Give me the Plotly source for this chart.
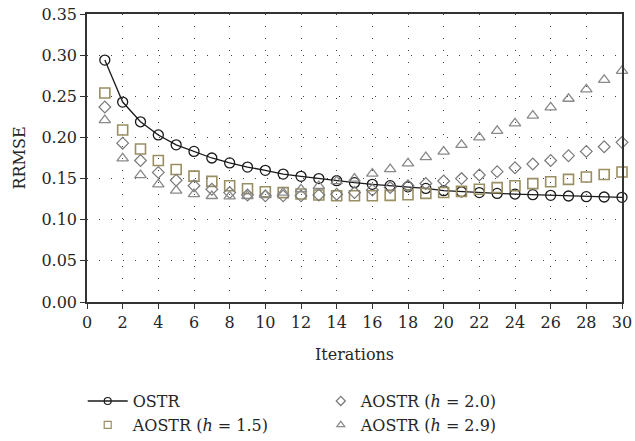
import plotly.graph_objects as go

iterations = list(range(1, 31))
ostr = [0.294, 0.243, 0.219, 0.203, 0.191, 0.183, 0.175, 0.169, 0.164, 0.160,
        0.1555, 0.1527, 0.150, 0.1474, 0.145, 0.143, 0.1414, 0.140, 0.138, 0.1353,
        0.134, 0.133, 0.132, 0.1312, 0.1304, 0.1296, 0.1288, 0.128, 0.1276, 0.1272]
aostr_15 = [0.254, 0.209, 0.186, 0.172, 0.161, 0.153, 0.1466, 0.1413, 0.1377, 0.134,
            0.1329, 0.1312, 0.130, 0.1292, 0.1292, 0.1292, 0.1296, 0.1304, 0.132, 0.133,
            0.1345, 0.137, 0.139, 0.1413, 0.1438, 0.1462, 0.149, 0.152, 0.155, 0.158]
aostr_20 = [0.237, 0.193, 0.172, 0.1575, 0.148, 0.1413, 0.137, 0.133, 0.130, 0.129,
            0.129, 0.129, 0.130, 0.131, 0.133, 0.136, 0.139, 0.1413, 0.144, 0.147,
            0.150, 0.1543, 0.1584, 0.1632, 0.1677, 0.172, 0.1778, 0.183, 0.1887, 0.194]
aostr_29 = [0.221, 0.1746, 0.1543, 0.143, 0.1353, 0.1312, 0.1288, 0.1284, 0.1288, 0.130,
            0.133, 0.137, 0.141, 0.147, 0.150, 0.156, 0.1616, 0.1685, 0.176, 0.1827,
            0.191, 0.200, 0.208, 0.217, 0.2265, 0.2366, 0.247, 0.2585, 0.270, 0.281]
x_ticks = list(range(0, 31, 2))
y_ticks = [0.00, 0.05, 0.10, 0.15, 0.20, 0.25, 0.30, 0.35]

FONT = "DejaVu Serif"
TXT = "#262626"

series = [
    dict(name="OSTR", y=ostr, mode="lines+markers", symbol="circle-open", size=10, lsize=7,
         color="#1a1a1a", lw=1.3, legend="legend"),
    dict(name="AOSTR (<i>h</i> = 1.5)", y=aostr_15, mode="markers", symbol="square-open", size=10, lsize=7,
         color="#9a8f63", lw=1.6, legend="legend"),
    dict(name="AOSTR (<i>h</i> = 2.0)", y=aostr_20, mode="markers", symbol="diamond-open", size=9, lsize=7,
         color="#7a7a7a", lw=1.2, legend="legend2"),
    dict(name="AOSTR (<i>h</i> = 2.9)", y=aostr_29, mode="markers", symbol="triangle-up-open", size=10, lsize=7,
         color="#8a8a8a", lw=1.3, legend="legend2"),
]

fig = go.Figure()
for s in series:
    fig.add_trace(go.Scatter(
        x=iterations, y=s["y"], name=s["name"], mode=s["mode"],
        line=dict(color=s["color"], width=1.3),
        marker=dict(symbol=s["symbol"], size=s["size"], color=s["color"], line=dict(width=s["lw"])),
        showlegend=False, cliponaxis=False))
for s in series:
    # legend-only entry with smaller marker, as in the reference key
    fig.add_trace(go.Scatter(
        x=[None], y=[None], name=s["name"], mode=s["mode"],
        line=dict(color=s["color"], width=1.3),
        marker=dict(symbol=s["symbol"], size=s["lsize"], color=s["color"], line=dict(width=1.2)),
        legend=s["legend"], showlegend=True))

axis_common = dict(
    showline=True, linecolor="#333", linewidth=1.5, mirror=True,
    ticks="outside", ticklen=5, tickcolor="#333",
    showgrid=True, gridcolor="#444", gridwidth=1, griddash="1px,11px",
    zeroline=False, tickfont=dict(size=16, color=TXT, family=FONT),
    automargin=False,
)

fig.update_xaxes(range=[0, 30], tickvals=x_ticks,
                 title=dict(text="Iterations", font=dict(size=16, color=TXT, family=FONT), standoff=18),
                 **axis_common)
fig.update_yaxes(range=[0, 0.35], tickvals=y_ticks, tickformat=".2f",
                 title=dict(text="RRMSE", font=dict(size=16, color=TXT, family=FONT), standoff=12),
                 **axis_common)

legend_common = dict(orientation="v", yanchor="top", xanchor="left",
                     font=dict(size=16, family=FONT, color=TXT),
                     bgcolor="rgba(0,0,0,0)", tracegroupgap=0)

fig.update_layout(
    width=635, height=441,
    margin=dict(l=87, r=13, t=14, b=139, autoexpand=False),
    paper_bgcolor="white", plot_bgcolor="white",
    font=dict(family=FONT, size=16, color=TXT),
    showlegend=True,
    legend=dict(x=-0.008, y=-0.285, itemwidth=40, **legend_common),
    legend2=dict(x=0.437, y=-0.285, **legend_common),
)

fig.write_html("out.html")
